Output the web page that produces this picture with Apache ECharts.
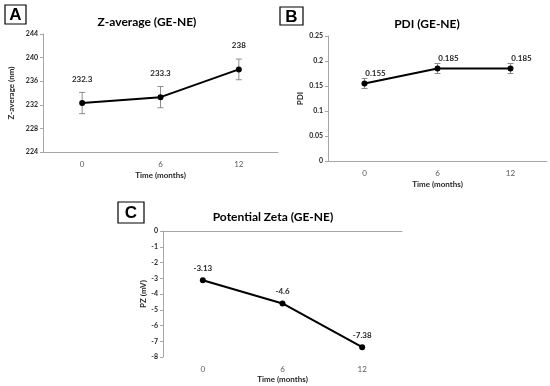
<!DOCTYPE html>
<html><head><meta charset="utf-8">
<script src="https://cdn.jsdelivr.net/npm/echarts@6/dist/echarts.min.js"></script>
<style>html,body{margin:0;padding:0;background:#fff}#c{width:550px;height:386px}</style>
</head><body><div id="c"></div>
<script>
const categories = ['0', '6', '12'];
const zAvg = [232.3, 233.3, 238];
const zAvgErr = [1.8, 1.8, 1.75];
const pdi = [0.155, 0.185, 0.185];
const pdiErr = [0.01, 0.01, 0.01];
const pz = [-3.13, -4.6, -7.38];

const FONT = 'Lato';
const axisGrey = '#a6a6a6';
const txt = '#262626';

function errData(vals, errs) {
  return vals.map((v, i) => [i, v, v + errs[i], v - errs[i]]);
}
function errSeries(idx, vals, errs) {
  return {
    type: 'custom', xAxisIndex: idx, yAxisIndex: idx, z: 1, silent: true,
    data: errData(vals, errs),
    renderItem: function (params, api) {
      const hi = api.coord([api.value(0), api.value(2)]);
      const lo = api.coord([api.value(0), api.value(3)]);
      const w = 3;
      const st = { stroke: '#8c8c8c', lineWidth: 1 };
      return { type: 'group', children: [
        { type: 'line', shape: { x1: hi[0], y1: hi[1], x2: lo[0], y2: lo[1] }, style: st },
        { type: 'line', shape: { x1: hi[0] - w, y1: hi[1], x2: hi[0] + w, y2: hi[1] }, style: st },
        { type: 'line', shape: { x1: lo[0] - w, y1: lo[1], x2: lo[0] + w, y2: lo[1] }, style: st }
      ]};
    }
  };
}
function lineSeries(idx, vals, label) {
  return {
    type: 'line', xAxisIndex: idx, yAxisIndex: idx, z: 3, data: vals,
    symbol: 'circle', symbolSize: 6,
    itemStyle: { color: '#000' }, lineStyle: { color: '#000', width: 2 },
    label: Object.assign({ show: true, position: 'top', color: txt, fontFamily: FONT, fontWeight: 'bold', fontSize: 8 }, label)
  };
}
function xAx(idx, nameGap, extra) {
  return Object.assign({
    type: 'category', gridIndex: idx, data: categories, boundaryGap: true,
    name: 'Time (months)', nameLocation: 'middle', nameGap: nameGap,
    nameTextStyle: { fontFamily: FONT, fontWeight: 'bold', fontSize: 8, color: txt },
    axisLine: { lineStyle: { color: axisGrey, width: 1 } },
    axisTick: { show: false },
    axisLabel: { fontFamily: FONT, fontSize: 8, color: '#595959', margin: 8 },
    splitLine: { show: false }
  }, extra || {});
}
function yAx(idx, name, min, max, interval, nameGap, fmt) {
  return {
    type: 'value', gridIndex: idx, min: min, max: max, interval: interval,
    name: name, nameLocation: 'middle', nameGap: nameGap, nameRotate: 90,
    nameTextStyle: { fontFamily: FONT, fontWeight: 'bold', fontSize: 8, color: txt },
    axisLine: { show: true, lineStyle: { color: axisGrey, width: 1 } },
    axisTick: { show: true, length: 3, lineStyle: { color: axisGrey } },
    axisLabel: { fontFamily: FONT, fontWeight: 'bold', fontSize: 7, color: txt, margin: 5, formatter: fmt },
    splitLine: { show: false }
  };
}
function box(x, y, w, h, letter) {
  return { type: 'group', children: [
    { type: 'rect', shape: { x: x, y: y, width: w, height: h }, style: { fill: '#fff', stroke: '#000', lineWidth: 1.2 } },
    { type: 'text', x: x + w / 2, y: y + h / 2 + 1, style: { text: letter, fill: '#000', font: 'bold 17px Liberation Sans', textAlign: 'center', textVerticalAlign: 'middle' } }
  ]};
}

const chart = echarts.init(document.getElementById('c'), null, { renderer: 'canvas' });
const titleStyle = { fontFamily: FONT, fontWeight: 'bold', fontSize: 12, color: '#000' };
chart.setOption({
  animation: false,
  backgroundColor: '#fff',
  title: [
    { text: 'Z-average (GE-NE)', left: 142, top: 11, textAlign: 'center', textStyle: titleStyle },
    { text: 'PDI (GE-NE)', left: 422, top: 13, textAlign: 'center', textStyle: titleStyle },
    { text: 'Potential Zeta (GE-NE)', left: 268, top: 206, textAlign: 'center', textStyle: titleStyle }
  ],
  grid: [
    { left: 43, top: 34, width: 235, height: 118 },
    { left: 328, top: 36, width: 219, height: 125 },
    { left: 163, top: 231, width: 239, height: 126 }
  ],
  xAxis: [
    xAx(0, 19),
    xAx(1, 19),
    xAx(2, 18, { axisLine: { show: false, onZero: false }, position: 'bottom' }),
    { type: 'category', gridIndex: 2, data: categories, position: 'top',
      axisLine: { show: true, onZero: false, lineStyle: { color: axisGrey, width: 1 } },
      axisTick: { show: false }, axisLabel: { show: false }, splitLine: { show: false } }
  ],
  yAxis: [
    yAx(0, 'Z-average (nm)', 224, 244, 4, 28),
    yAx(1, 'PDI', 0, 0.25, 0.05, 24),
    yAx(2, 'PZ (mV)', -8, 0, 1, 16)
  ],
  series: [
    errSeries(0, zAvg, zAvgErr),
    lineSeries(0, zAvg, { distance: 17 }),
    errSeries(1, pdi, pdiErr),
    lineSeries(1, pdi, { distance: 3, offset: [11, 0] }),
    lineSeries(2, pz, { distance: 5 })
  ],
  graphic: [
    box(5, 5, 21, 19, 'A'),
    box(280, 7, 23, 18, 'B'),
    box(118, 202, 26, 21, 'C')
  ]
});
</script>
</body></html>
